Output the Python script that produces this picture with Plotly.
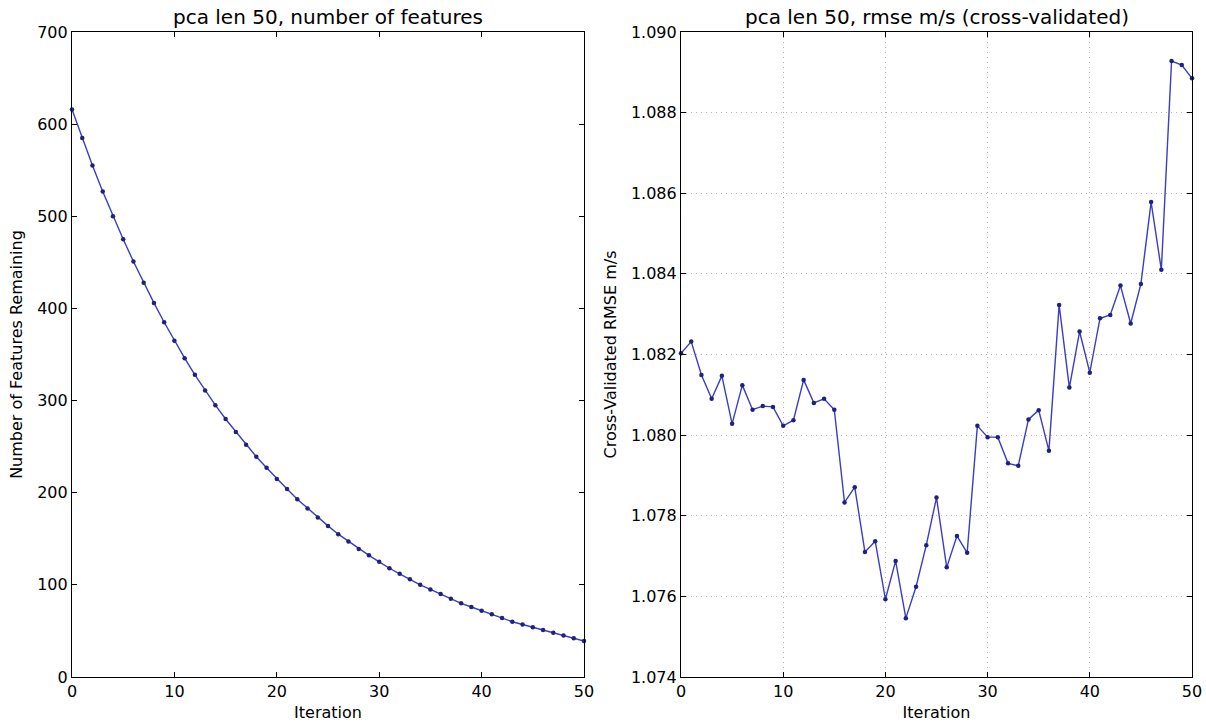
import plotly.graph_objects as go

# Feature-elimination run: iterations 0..50
iterations = list(range(51))

# Number of features left after each elimination step
features_remaining = [
    616, 585, 555, 527, 500, 475, 451, 428, 406, 385,
    365, 346, 328, 311, 295, 280, 266, 252, 239, 227,
    215, 204, 193, 183, 173, 164, 155, 147, 139, 132,
    125, 118, 112, 106, 100, 95, 90, 85, 80, 76,
    72, 68, 64, 60, 57, 54, 51, 48, 45, 42,
    39,
]

# Cross-validated RMSE (m/s) at each step
cv_rmse = [
    1.08203, 1.08232, 1.08149, 1.08090, 1.08147, 1.08028, 1.08124, 1.08063, 1.08072, 1.08070,
    1.08023, 1.08037, 1.08137, 1.08080, 1.08090, 1.08063, 1.07833, 1.07871, 1.07710, 1.07737,
    1.07593, 1.07688, 1.07546, 1.07624, 1.07727, 1.07845, 1.07672, 1.07750, 1.07708, 1.08023,
    1.07995, 1.07995, 1.07930, 1.07924, 1.08039, 1.08062, 1.07961, 1.08323, 1.08118, 1.08257,
    1.08155, 1.08290, 1.08298, 1.08371, 1.08277, 1.08375, 1.08578, 1.08410, 1.08928, 1.08918,
    1.08885,
]

x_ticks = [0, 10, 20, 30, 40, 50]
left_y_ticks = [0, 100, 200, 300, 400, 500, 600, 700]
right_y_ticks = [1.074, 1.076, 1.078, 1.080, 1.082, 1.084, 1.086, 1.088, 1.090]

LINE_COLOR = "#3c3cc4"
MARKER_COLOR = "#20207e"
GRID_COLOR = "#b4b4b4"
FONT = "DejaVu Sans"

fig = go.Figure()

fig.add_trace(go.Scatter(
    x=iterations, y=features_remaining, mode="lines+markers",
    line=dict(color=LINE_COLOR, width=1.4),
    marker=dict(color=MARKER_COLOR, size=4.5),
    xaxis="x", yaxis="y", showlegend=False, cliponaxis=False,
))
fig.add_trace(go.Scatter(
    x=iterations, y=cv_rmse, mode="lines+markers",
    line=dict(color=LINE_COLOR, width=1.4),
    marker=dict(color=MARKER_COLOR, size=4.5),
    xaxis="x2", yaxis="y2", showlegend=False, cliponaxis=False,
))

W, H = 1206, 725
left_dom = [72 / W, 584 / W]
right_dom = [681 / W, 1192 / W]
y_dom = [1 - 677 / H, 1 - 32 / H]

common_axis = dict(
    showline=True, linecolor="black", linewidth=1.2, mirror="ticks",
    ticks="inside", ticklen=5, tickwidth=1, tickcolor="black",
    zeroline=False, automargin=False,
    tickfont=dict(family=FONT, size=16, color="black"),
)
title_font = dict(family=FONT, size=16, color="black")
grid = dict(showgrid=True, gridcolor=GRID_COLOR, griddash="1px,4px", gridwidth=1)

fig.update_layout(
    width=W, height=H,
    margin=dict(l=0, r=0, t=0, b=0, autoexpand=False),
    paper_bgcolor="white", plot_bgcolor="white",
    xaxis=dict(domain=left_dom, range=[0, 50], tickvals=x_ticks, showgrid=False,
               title=dict(text="Iteration", font=title_font, standoff=6),
               anchor="y", **common_axis),
    yaxis=dict(domain=y_dom, range=[0, 700], tickvals=left_y_ticks, showgrid=False,
               title=dict(text="Number of Features Remaining", font=title_font, standoff=10),
               anchor="x", **common_axis),
    xaxis2=dict(domain=right_dom, range=[0, 50], tickvals=x_ticks,
                title=dict(text="Iteration", font=title_font, standoff=6),
                anchor="y2", **grid, **common_axis),
    yaxis2=dict(domain=y_dom, range=[1.074, 1.090], tickvals=right_y_ticks, tickformat=".3f",
                title=dict(text="Cross-Validated RMSE m/s", font=title_font, standoff=10),
                anchor="x2", **grid, **common_axis),
    annotations=[
        dict(text="pca len 50, number of features", x=sum(left_dom) / 2, y=y_dom[1],
             xref="paper", yref="paper", xanchor="center", yanchor="bottom", yshift=1,
             showarrow=False, font=dict(family=FONT, size=20, color="black")),
        dict(text="pca len 50, rmse m/s (cross-validated)", x=sum(right_dom) / 2, y=y_dom[1],
             xref="paper", yref="paper", xanchor="center", yanchor="bottom", yshift=1,
             showarrow=False, font=dict(family=FONT, size=20, color="black")),
    ],
)

fig.write_html("out.html")
